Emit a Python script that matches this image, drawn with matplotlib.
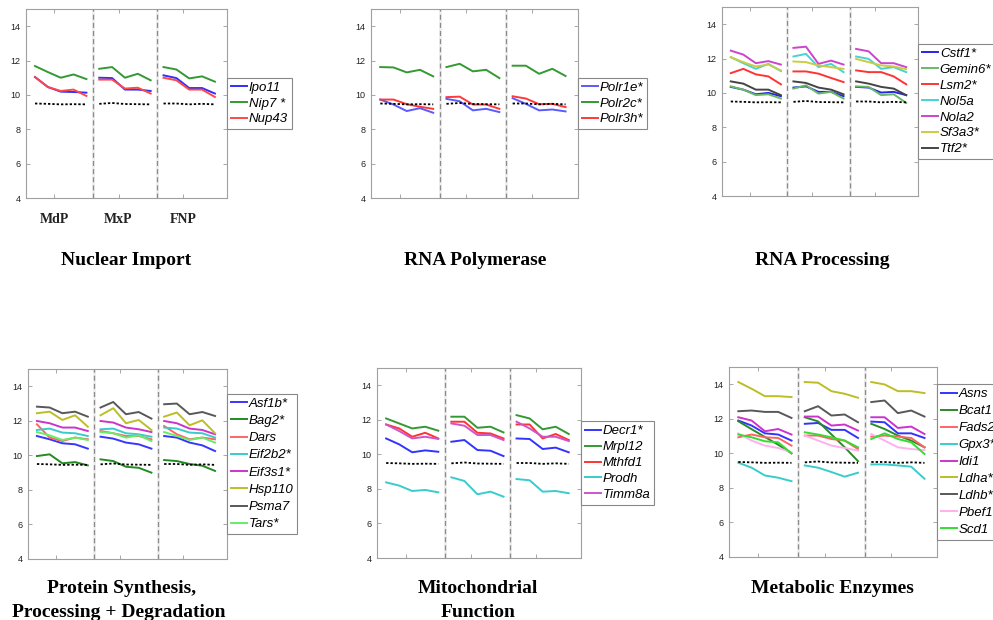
import matplotlib

matplotlib.use("Agg")
import matplotlib.pyplot as plt
import numpy as np
from matplotlib.font_manager import FontProperties

plt.rcParams["font.family"] = ["Liberation Sans", "DejaVu Sans"]

REGIONS = ["MdP", "MxP", "FNP"]
N_STAGES = 5

# shared reference (dotted black) line, 5 stages x 3 regions
BASELINE = [9.50, 9.48, 9.45, 9.46, 9.45,
            9.48, 9.53, 9.47, 9.46, 9.45,
            9.50, 9.50, 9.45, 9.48, 9.45]

IMPORT_GENES = ["Ipo11", "Nip7 *", "Nup43"]
IMPORT_VALUES = [
    [11.04, 10.46, 10.19, 10.17, 10.13, 11.00, 10.98, 10.31, 10.31, 10.23, 11.14, 10.98, 10.40, 10.40, 10.08],
    [11.68, 11.33, 11.00, 11.19, 10.92, 11.52, 11.62, 11.00, 11.23, 10.85, 11.62, 11.48, 10.96, 11.08, 10.77],
    [11.04, 10.46, 10.23, 10.31, 9.94, 10.89, 10.89, 10.37, 10.42, 10.08, 11.00, 10.85, 10.31, 10.31, 9.88],
]
IMPORT_COLORS = ["#2f2fff", "#339933", "#ff4848"]

POLYMERASE_GENES = ["Polr1e*", "Polr2c*", "Polr3h*"]
POLYMERASE_VALUES = [
    [9.73, 9.44, 9.06, 9.23, 8.96, 9.77, 9.63, 9.10, 9.19, 9.00, 9.81, 9.48, 9.10, 9.15, 9.04],
    [11.62, 11.60, 11.31, 11.46, 11.08, 11.62, 11.81, 11.37, 11.46, 10.98, 11.70, 11.70, 11.23, 11.52, 11.10],
    [9.73, 9.73, 9.46, 9.31, 9.19, 9.87, 9.90, 9.44, 9.44, 9.19, 9.92, 9.79, 9.46, 9.48, 9.29],
]
POLYMERASE_COLORS = ["#5a5aff", "#339933", "#ff3838"]

PROCESSING_GENES = ["Cstf1*", "Gemin6*", "Lsm2*", "Nol5a", "Nola2", "Sf3a3*", "Ttf2*"]
PROCESSING_VALUES = [
    [10.35, 10.19, 9.92, 10.00, 9.81, 10.31, 10.38, 10.06, 10.06, 9.81, 10.35, 10.31, 10.02, 10.06, 9.87],
    [10.38, 10.19, 9.87, 9.92, 9.67, 10.25, 10.44, 9.96, 10.06, 9.67, 10.38, 10.35, 9.87, 9.92, 9.42],
    [11.15, 11.40, 11.08, 10.96, 10.50, 11.25, 11.25, 11.12, 10.87, 10.63, 11.31, 11.21, 11.21, 10.96, 10.50],
    [12.08, 11.73, 11.40, 11.69, 11.27, 12.12, 12.27, 11.50, 11.69, 11.21, 12.12, 11.98, 11.40, 11.50, 11.21],
    [12.46, 12.23, 11.73, 11.85, 11.65, 12.62, 12.69, 11.69, 11.88, 11.65, 12.56, 12.42, 11.73, 11.73, 11.50],
    [12.08, 11.79, 11.54, 11.65, 11.31, 11.83, 11.79, 11.60, 11.50, 11.40, 11.98, 11.79, 11.60, 11.54, 11.38],
    [10.67, 10.54, 10.19, 10.19, 9.87, 10.67, 10.58, 10.31, 10.19, 9.92, 10.67, 10.54, 10.35, 10.25, 9.87],
]
PROCESSING_COLORS = ["#2525e8", "#6ab86a", "#ff3333", "#48d2d2", "#cc44cc", "#cccc44", "#444444"]

PROTEIN_GENES = ["Asf1b*", "Bag2*", "Dars", "Eif2b2*", "Eif3s1*", "Hsp110", "Psma7", "Tars*"]
PROTEIN_VALUES = [
    [11.12, 10.93, 10.70, 10.64, 10.39, 11.08, 10.97, 10.74, 10.64, 10.39, 11.12, 11.03, 10.74, 10.58, 10.25],
    [9.96, 10.06, 9.54, 9.61, 9.42, 9.77, 9.67, 9.34, 9.28, 9.00, 9.73, 9.67, 9.50, 9.40, 9.10],
    [11.80, 11.03, 10.83, 11.03, 10.93, 11.41, 11.28, 11.12, 11.12, 10.93, 11.70, 11.22, 10.93, 11.03, 10.93],
    [11.47, 11.55, 11.32, 11.28, 11.12, 11.51, 11.55, 11.28, 11.22, 11.08, 11.61, 11.55, 11.32, 11.28, 11.03],
    [11.99, 11.86, 11.61, 11.61, 11.41, 11.99, 11.90, 11.61, 11.51, 11.35, 11.99, 11.86, 11.55, 11.47, 11.22],
    [12.44, 12.53, 12.05, 12.32, 11.66, 12.32, 12.73, 11.86, 12.05, 11.47, 12.24, 12.48, 11.74, 12.03, 11.28],
    [12.82, 12.77, 12.44, 12.53, 12.24, 12.77, 13.09, 12.38, 12.51, 12.13, 12.96, 13.00, 12.38, 12.51, 12.28],
    [11.35, 11.16, 10.89, 11.03, 10.89, 11.35, 11.28, 11.03, 11.16, 10.83, 11.35, 11.12, 10.89, 11.03, 10.74],
]
PROTEIN_COLORS = ["#3636ff", "#228b22", "#ff6464", "#38cccc", "#cc33cc", "#bdbd25", "#585858", "#66ee66"]

MITO_GENES = ["Decr1*", "Mrpl12", "Mthfd1", "Prodh", "Timm8a"]
MITO_VALUES = [
    [10.92, 10.58, 10.12, 10.23, 10.15, 10.73, 10.83, 10.25, 10.21, 9.90, 10.92, 10.89, 10.31, 10.39, 10.12],
    [12.08, 11.79, 11.50, 11.60, 11.37, 12.18, 12.18, 11.54, 11.60, 11.27, 12.27, 12.08, 11.45, 11.60, 11.18],
    [11.73, 11.50, 11.02, 11.25, 10.92, 11.89, 11.89, 11.25, 11.21, 10.92, 11.73, 11.73, 10.92, 11.18, 10.83],
    [8.38, 8.19, 7.88, 7.94, 7.80, 8.67, 8.46, 7.69, 7.84, 7.55, 8.57, 8.50, 7.84, 7.88, 7.75],
    [11.73, 11.35, 10.92, 11.02, 10.89, 11.79, 11.66, 11.12, 11.12, 10.83, 11.89, 11.50, 11.02, 11.02, 10.77],
]
MITO_COLORS = ["#3333ff", "#339933", "#ff3333", "#38cccc", "#cc55cc"]

METABOLIC_GENES = ["Asns", "Bcat1", "Fads2", "Gpx3*", "Idi1", "Ldha*", "Ldhb*", "Pbef1", "Scd1"]
METABOLIC_VALUES = [
    [11.90, 11.61, 11.16, 11.09, 10.74, 11.71, 11.76, 11.36, 11.36, 10.89, 11.84, 11.80, 11.16, 11.16, 10.89],
    [11.86, 11.40, 10.95, 10.50, 10.00, 12.09, 11.85, 11.10, 10.35, 9.55, 11.71, 11.41, 11.03, 10.74, 10.35],
    [10.93, 11.09, 10.93, 10.89, 10.45, 11.03, 11.03, 10.83, 10.74, 10.25, 10.97, 11.03, 10.97, 10.89, 10.35],
    [9.46, 9.17, 8.72, 8.59, 8.39, 9.30, 9.17, 8.92, 8.65, 8.88, 9.36, 9.36, 9.30, 9.23, 8.53],
    [12.09, 11.90, 11.28, 11.41, 11.09, 12.13, 12.13, 11.61, 11.67, 11.32, 12.09, 12.09, 11.47, 11.55, 11.12],
    [14.13, 13.74, 13.31, 13.31, 13.26, 14.13, 14.09, 13.60, 13.45, 13.22, 14.13, 13.99, 13.60, 13.60, 13.49],
    [12.44, 12.48, 12.40, 12.40, 12.05, 12.44, 12.73, 12.19, 12.25, 11.80, 12.97, 13.06, 12.33, 12.48, 12.13],
    [11.16, 10.74, 10.45, 10.31, 10.06, 11.03, 10.74, 10.45, 10.31, 10.16, 11.12, 10.74, 10.35, 10.25, 10.19],
    [11.09, 10.93, 10.70, 10.64, 10.00, 11.22, 11.09, 10.93, 10.74, 10.35, 10.83, 11.16, 10.83, 10.64, 9.96],
]
METABOLIC_COLORS = ["#3333ff", "#2a8a2a", "#ff6464", "#38cccc", "#cc33cc", "#bdbd25", "#585858", "#ffb0ee", "#33dd33"]

FIG_W, FIG_H = 993, 620
TITLE_FONT = dict(family="Liberation Serif", weight="bold", size=14)


def px_rect(left, top, right, bottom):
    return [left / FIG_W, 1 - bottom / FIG_H, (right - left) / FIG_W, (bottom - top) / FIG_H]


def draw_panel(ax, genes, values, colors, spacing=0.25):
    x = np.arange(1, N_STAGES * len(REGIONS) + 1)
    base = np.asarray(BASELINE)
    for xb in (5.5, 10.5):
        ax.axvline(xb, color="#eeeeee", lw=2.0, zorder=0)
        ax.axvline(xb, color="#8a8a8a", lw=0.9, ls=(0, (4, 2.5)), zorder=0.5)
    for name, vals, color in zip(genes, values, colors):
        vals = np.asarray(vals)
        for g in range(len(REGIONS)):
            sl = slice(g * N_STAGES, (g + 1) * N_STAGES)
            ax.plot(x[sl], vals[sl], color=color, lw=1.4,
                    label=name if g == 0 else "_nolegend_")
    for g in range(len(REGIONS)):
        sl = slice(g * N_STAGES, (g + 1) * N_STAGES)
        ax.plot(x[sl], base[sl], color="black", lw=1.3, ls=(0, (1.3, 1.1)), zorder=3)

    ax.set_xlim(0.3, 15.94)
    ax.set_ylim(4, 15)
    ax.set_yticks(range(4, 15, 2))
    ax.set_xticks([2.5, 7.5, 12.5])
    ax.set_xticklabels([])
    ax.tick_params(direction="in", length=3, width=0.6, color="#999999",
                   labelcolor="#222222", labelsize=6.5, top=True, right=True, pad=4)
    for spine in ax.spines.values():
        spine.set_color("#a0a0a0")
        spine.set_linewidth(0.8)

    leg = ax.legend(loc="center left", bbox_to_anchor=(1.0, 0.5), borderaxespad=0,
                    fancybox=False, edgecolor="#888888", framealpha=1,
                    prop=FontProperties(family="Liberation Sans", style="italic", size=9.5),
                    handlelength=1.2, handletextpad=0.15, borderpad=0.3,
                    labelspacing=spacing)
    leg.get_frame().set_linewidth(0.8)


def main():
    fig = plt.figure(figsize=(FIG_W / 100, FIG_H / 100), dpi=100)

    ax1 = fig.add_axes(px_rect(26, 9, 227, 198))
    draw_panel(ax1, IMPORT_GENES, IMPORT_VALUES, IMPORT_COLORS)
    ax1.set_xticklabels(REGIONS, family="Liberation Serif", weight="bold", size=10)
    ax1.tick_params(axis="x", pad=11)

    ax2 = fig.add_axes(px_rect(371, 9, 578, 198))
    draw_panel(ax2, POLYMERASE_GENES, POLYMERASE_VALUES, POLYMERASE_COLORS)

    ax3 = fig.add_axes(px_rect(722, 7, 918, 196))
    draw_panel(ax3, PROCESSING_GENES, PROCESSING_VALUES, PROCESSING_COLORS, spacing=0.28)

    ax4 = fig.add_axes(px_rect(28, 369, 227, 559))
    draw_panel(ax4, PROTEIN_GENES, PROTEIN_VALUES, PROTEIN_COLORS, spacing=0.38)

    ax5 = fig.add_axes(px_rect(377, 368, 581, 558))
    draw_panel(ax5, MITO_GENES, MITO_VALUES, MITO_COLORS, spacing=0.28)

    ax6 = fig.add_axes(px_rect(729, 367, 937, 557))
    draw_panel(ax6, METABOLIC_GENES, METABOLIC_VALUES, METABOLIC_COLORS, spacing=0.36)

    titles = [
        ("Nuclear Import", 126, 265),
        ("RNA Polymerase", 475, 265),
        ("RNA Processing", 822, 265),
        ("Protein Synthesis,", 122, 593),
        ("Processing + Degradation", 119, 617),
        ("Mitochondrial", 478, 593),
        ("Function", 478, 617),
        ("Metabolic Enzymes", 832, 593),
    ]
    for text, xc, yb in titles:
        fig.text(xc / FIG_W, 1 - yb / FIG_H, text, ha="center", va="baseline", **TITLE_FONT)

    fig.savefig("out.png", dpi=100)


if __name__ == "__main__":
    main()
